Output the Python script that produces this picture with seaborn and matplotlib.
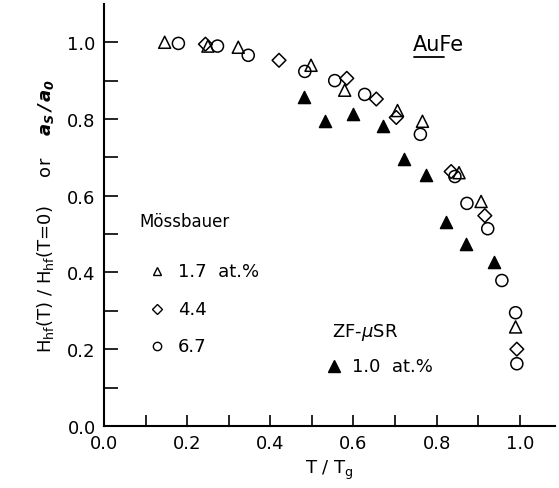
import matplotlib
matplotlib.use("Agg")
import matplotlib.pyplot as plt
import seaborn as sns
import numpy as np
import pandas as pd

# Mössbauer 1.7 at.% (open triangles)
tri_x = [0.146, 0.250, 0.323, 0.498, 0.579, 0.706, 0.766, 0.854, 0.907, 0.990]
tri_y = [1.000, 0.990, 0.987, 0.940, 0.875, 0.822, 0.794, 0.660, 0.585, 0.258]
# Mössbauer 4.4 at.% (open diamonds)
dia_x = [0.244, 0.421, 0.584, 0.655, 0.703, 0.835, 0.916, 0.993]
dia_y = [0.995, 0.953, 0.906, 0.852, 0.804, 0.663, 0.548, 0.200]
# Mössbauer 6.7 at.% (open circles)
cir_x = [0.179, 0.273, 0.347, 0.483, 0.555, 0.627, 0.761, 0.844, 0.873, 0.923, 0.957, 0.990, 0.993]
cir_y = [0.997, 0.990, 0.966, 0.924, 0.900, 0.864, 0.760, 0.650, 0.580, 0.514, 0.379, 0.295, 0.162]
# ZF-muSR 1.0 at.% (filled triangles)
zf_x = [0.481, 0.531, 0.598, 0.672, 0.722, 0.775, 0.823, 0.871, 0.938]
zf_y = [0.856, 0.794, 0.812, 0.783, 0.695, 0.655, 0.532, 0.473, 0.426]

x_ticks = [0.0, 0.2, 0.4, 0.6, 0.8, 1.0]
y_ticks = [0.0, 0.2, 0.4, 0.6, 0.8, 1.0]

sns.set_style("ticks")
plt.rcParams['font.family'] = ['DejaVu Sans']
plt.rcParams.update({'text.color': 'black', 'axes.labelcolor': 'black',
                     'xtick.color': 'black', 'ytick.color': 'black',
                     'axes.edgecolor': 'black'})

fig = plt.figure(figsize=(5.59, 4.89), dpi=100)
ax = fig.add_axes([0.186, 0.127, 0.807, 0.863])

ms = 75
lw = 1.1
sns.scatterplot(x=tri_x, y=tri_y, marker='^', s=ms, fc='none', ec='black', linewidth=lw, ax=ax)
sns.scatterplot(x=dia_x, y=dia_y, marker='D', s=ms*0.65, fc='none', ec='black', linewidth=lw, ax=ax)
sns.scatterplot(x=cir_x, y=cir_y, marker='o', s=ms, fc='none', ec='black', linewidth=lw, ax=ax)
sns.scatterplot(x=zf_x, y=zf_y, marker='^', s=ms, fc='black', ec='black', linewidth=lw, ax=ax)

ax.set_xlim(0, 1.085)
ax.set_ylim(0, 1.10)
ax.set_xticks(x_ticks)
ax.set_xticklabels([f"{t:.1f}" for t in x_ticks])
ax.set_yticks(y_ticks)
ax.set_yticklabels([f"{t:.1f}" for t in y_ticks])
ax.set_xticks(np.arange(0.1, 1.05, 0.2), minor=True)
ax.set_yticks(np.arange(0.1, 1.05, 0.2), minor=True)
ax.tick_params(which='both', direction='in', length=8, width=1.2, labelsize=13, pad=6,
               color='black', labelcolor='black')
ax.tick_params(axis='y', which='both', length=10)
for s in ['top', 'right']:
    ax.spines[s].set_visible(False)
for s in ['left', 'bottom']:
    ax.spines[s].set_linewidth(1.5)
    ax.spines[s].set_color('black')

ax.set_xlabel(r"T / T$_{\rm g}$", fontsize=13, labelpad=4, color='black')
ax.set_ylabel(r"H$_{\rm hf}$(T) / H$_{\rm hf}$(T=0)     or    $\mathbfit{a_S\,/\,a_0}$",
              fontsize=13, labelpad=8, color='black')

# annotations
ax.text(0.744, 0.995, "AuFe", fontsize=15, va='center', ha='left')
ax.plot([0.746, 0.818], [0.962, 0.962], color='black', lw=1.3)
ax.text(0.086, 0.535, "Mössbauer", fontsize=12, va='center', ha='left')
ax.plot([0.127], [0.405], marker='^', ms=6, mfc='none', mec='black', mew=1.0)
ax.text(0.177, 0.405, "1.7  at.%", fontsize=13, va='center', ha='left')
ax.plot([0.127], [0.305], marker='D', ms=5, mfc='none', mec='black', mew=1.0)
ax.text(0.177, 0.305, "4.4", fontsize=13, va='center', ha='left')
ax.plot([0.127], [0.209], marker='o', ms=6, mfc='none', mec='black', mew=1.0)
ax.text(0.177, 0.209, "6.7", fontsize=13, va='center', ha='left')
ax.text(0.548, 0.245, r"ZF-$\mu$SR", fontsize=13, va='center', ha='left')
ax.plot([0.553], [0.157], marker='^', ms=8, mfc='black', mec='black')
ax.text(0.596, 0.157, "1.0  at.%", fontsize=13, va='center', ha='left')

fig.savefig("out.png", dpi=100)
